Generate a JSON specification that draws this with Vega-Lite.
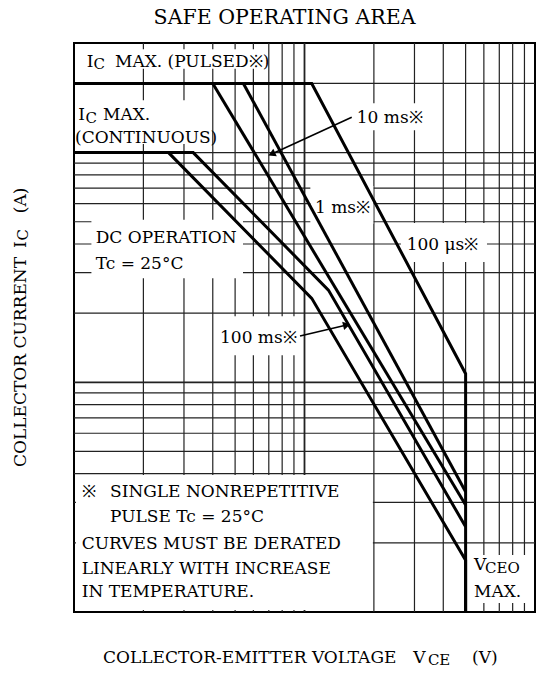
{
  "$schema": "https://vega.github.io/schema/vega-lite/v6.json",
  "width": 461,
  "height": 569,
  "autosize": "none",
  "padding": {"left": 74, "top": 43, "right": 18, "bottom": 72},
  "background": "white",
  "config": {"view": {"stroke": "black", "strokeWidth": 2}},
  "datasets": {
    "vgrid": [{"x": 2}, {"x": 3}, {"x": 4}, {"x": 5}, {"x": 6}, {"x": 7}, {"x": 8}, {"x": 9}, {"x": 10}, {"x": 20}, {"x": 30}, {"x": 40}, {"x": 50}, {"x": 60}, {"x": 70}, {"x": 80}, {"x": 90}],
    "hgrid": [{"y": 0.2}, {"y": 0.3}, {"y": 0.4}, {"y": 0.5}, {"y": 0.6}, {"y": 0.7}, {"y": 0.8}, {"y": 0.9}, {"y": 1}, {"y": 2}, {"y": 3}, {"y": 4}, {"y": 5}, {"y": 6}, {"y": 7}, {"y": 8}, {"y": 9}, {"y": 10}, {"y": 20}],
    "boxes": [
      {"box": "IC pulsed", "x": 1.02, "x2": 6.8, "y": 23.2, "y2": 28.2},
      {"box": "IC continuous", "x": 1.02, "x2": 3.95, "y": 10.9, "y2": 16.9},
      {"box": "DC", "x": 1.19, "x2": 5.41, "y": 2.84, "y2": 5.1},
      {"box": "10 ms", "x": 16.07, "x2": 33, "y": 12.5, "y2": 16.4},
      {"box": "1 ms", "x": 10.6, "x2": 19.9, "y": 4.9, "y2": 7.16},
      {"box": "100 us", "x": 26.2, "x2": 61.9, "y": 3.34, "y2": 4.94},
      {"box": "100 ms", "x": 4.13, "x2": 9.56, "y": 1.31, "y2": 1.94},
      {"box": "note", "x": 1.02, "x2": 19.8, "y": 0.102, "y2": 0.395},
      {"box": "VCEO", "x": 52.2, "x2": 98, "y": 0.1095, "y2": 0.177}
    ],
    "curves": [
      {"s": "DC", "k": 0, "x": 1, "y": 10},
      {"s": "DC", "k": 1, "x": 2.57, "y": 10},
      {"s": "DC", "k": 2, "x": 10.75, "y": 2.32},
      {"s": "DC", "k": 3, "x": 50, "y": 0.168},
      {"s": "DC", "k": 4, "x": 50, "y": 0.1},
      {"s": "100 ms", "k": 0, "x": 1, "y": 10},
      {"s": "100 ms", "k": 1, "x": 3.29, "y": 10},
      {"s": "100 ms", "k": 2, "x": 12.7, "y": 2.52},
      {"s": "100 ms", "k": 3, "x": 50, "y": 0.235},
      {"s": "10 ms", "k": 0, "x": 4, "y": 20},
      {"s": "10 ms", "k": 1, "x": 50, "y": 0.292},
      {"s": "1 ms", "k": 0, "x": 5.43, "y": 20},
      {"s": "1 ms", "k": 1, "x": 50, "y": 0.334},
      {"s": "100 us", "k": 0, "x": 1, "y": 20},
      {"s": "100 us", "k": 1, "x": 10.75, "y": 20},
      {"s": "100 us", "k": 2, "x": 50, "y": 1.09},
      {"s": "100 us", "k": 3, "x": 50, "y": 0.1}
    ],
    "arrows": [
      {"a": "10 ms", "x": 16.03, "y": 14.25, "x2": 7.21, "y2": 9.86},
      {"a": "100 ms", "x": 9.56, "y": 1.59, "x2": 15.24, "y2": 1.776}
    ],
    "title": [
      {"t": "SAFE OPERATING AREA", "x": 8.19, "y": 36.3}
    ],
    "labels": [
      {"t": "I", "x": 1.135, "y": 23.66},
      {"t": "MAX. (PULSED※)", "x": 1.506, "y": 23.66},
      {"t": "I", "x": 1.044, "y": 13.86},
      {"t": "MAX.", "x": 1.336, "y": 13.86},
      {"t": "(CONTINUOUS)", "x": 1.01, "y": 11.06},
      {"t": "DC OPERATION", "x": 1.242, "y": 4.03},
      {"t": "Tc = 25°C", "x": 1.242, "y": 3.1},
      {"t": "10 ms※", "x": 16.85, "y": 13.42},
      {"t": "1 ms※", "x": 11.1, "y": 5.47},
      {"t": "100 μs※", "x": 27.76, "y": 3.77},
      {"t": "100 ms※", "x": 4.3, "y": 1.483},
      {"t": "※", "x": 1.08, "y": 0.3158},
      {"t": "SINGLE NONREPETITIVE", "x": 1.433, "y": 0.3158},
      {"t": "PULSE Tc = 25°C", "x": 1.433, "y": 0.2471},
      {"t": "CURVES MUST BE DERATED", "x": 1.08, "y": 0.188},
      {"t": "LINEARLY WITH INCREASE", "x": 1.08, "y": 0.1464},
      {"t": "IN TEMPERATURE.", "x": 1.08, "y": 0.1162},
      {"t": "V", "x": 54.4, "y": 0.1523},
      {"t": "MAX.", "x": 54.4, "y": 0.1161},
      {"t": "COLLECTOR-EMITTER VOLTAGE", "x": 1.336, "y": 0.06},
      {"t": "V", "x": 29.6, "y": 0.06},
      {"t": "(V)", "x": 53.3, "y": 0.06}
    ],
    "subs": [
      {"t": "C", "x": 1.215, "y": 23.66},
      {"t": "C", "x": 1.122, "y": 13.86},
      {"t": "CEO", "x": 60.7, "y": 0.1523},
      {"t": "CE", "x": 34.3, "y": 0.06}
    ],
    "ytitle": [
      {"t": "COLLECTOR CURRENT", "x": 0.619, "y": 0.428},
      {"t": "I", "x": 0.619, "y": 3.84},
      {"t": "(A)", "x": 0.619, "y": 5.45}
    ],
    "ytitlesub": [
      {"t": "C", "x": 0.619, "y": 4.14}
    ]
  },
  "layer": [
    {
      "data": {"name": "vgrid"},
      "mark": {"type": "rule", "color": "#222222"},
      "encoding": {
        "x": {"field": "x", "type": "quantitative", "scale": {"type": "log", "domain": [1, 100], "nice": false},
          "axis": {"values": [1, 3, 5, 10, 30, 50, 100], "labelExpr": "format(datum.value, '~g')", "labelFont": "DejaVu Serif", "labelFontSize": 14, "labelColor": "black", "ticks": false, "domain": false, "grid": false, "labelPadding": 8, "labelFlush": false, "labelOverlap": false, "title": null}},
        "strokeWidth": {"condition": {"test": "datum.x === 10", "value": 1.8}, "value": 1.2}
      }
    },
    {
      "data": {"name": "hgrid"},
      "mark": {"type": "rule", "color": "#222222"},
      "encoding": {
        "y": {"field": "y", "type": "quantitative", "scale": {"type": "log", "domain": [0.1, 30], "nice": false},
          "axis": {"values": [0.1, 0.3, 0.5, 1, 3, 5, 10, 30], "labelExpr": "format(datum.value, '~g')", "labelFont": "DejaVu Serif", "labelFontSize": 14, "labelColor": "black", "ticks": false, "domain": false, "grid": false, "labelPadding": 6, "labelFlush": false, "labelOverlap": false, "title": null}},
        "strokeWidth": {"condition": {"test": "datum.y === 1", "value": 1.8}, "value": 1.2}
      }
    },
    {
      "data": {"name": "boxes"},
      "mark": {"type": "rect", "fill": "white"},
      "encoding": {
        "x": {"field": "x", "type": "quantitative", "axis": null},
        "x2": {"field": "x2"},
        "y": {"field": "y", "type": "quantitative", "axis": null},
        "y2": {"field": "y2"}
      }
    },
    {
      "data": {"name": "curves"},
      "mark": {"type": "line", "color": "black", "strokeWidth": 3, "strokeJoin": "miter", "strokeCap": "butt"},
      "encoding": {
        "x": {"field": "x", "type": "quantitative", "axis": null},
        "y": {"field": "y", "type": "quantitative", "axis": null},
        "detail": {"field": "s"},
        "order": {"field": "k", "type": "quantitative"}
      }
    },
    {
      "data": {"name": "arrows"},
      "mark": {"type": "rule", "color": "black", "strokeWidth": 1.6},
      "encoding": {
        "x": {"field": "x", "type": "quantitative", "axis": null},
        "y": {"field": "y", "type": "quantitative", "axis": null},
        "x2": {"field": "x2"},
        "y2": {"field": "y2"}
      }
    },
    {
      "data": {"name": "arrows"},
      "transform": [{"filter": "datum.a === '10 ms'"}],
      "mark": {"type": "point", "shape": "triangle-right", "filled": true, "color": "black", "size": 70, "angle": 155.4, "opacity": 1},
      "encoding": {
        "x": {"field": "x2", "type": "quantitative", "axis": null},
        "y": {"field": "y2", "type": "quantitative", "axis": null}
      }
    },
    {
      "data": {"name": "arrows"},
      "transform": [{"filter": "datum.a === '100 ms'"}],
      "mark": {"type": "point", "shape": "triangle-right", "filled": true, "color": "black", "size": 70, "angle": 346.7, "opacity": 1},
      "encoding": {
        "x": {"field": "x2", "type": "quantitative", "axis": null},
        "y": {"field": "y2", "type": "quantitative", "axis": null}
      }
    },
    {
      "data": {"name": "title"},
      "mark": {"type": "text", "font": "DejaVu Serif", "fontSize": 20.5, "color": "black", "align": "center", "baseline": "alphabetic"},
      "encoding": {
        "x": {"field": "x", "type": "quantitative", "axis": null},
        "y": {"field": "y", "type": "quantitative", "axis": null},
        "text": {"field": "t"}
      }
    },
    {
      "data": {"name": "labels"},
      "mark": {"type": "text", "font": "DejaVu Serif", "fontSize": 17, "color": "black", "align": "left", "baseline": "alphabetic"},
      "encoding": {
        "x": {"field": "x", "type": "quantitative", "axis": null},
        "y": {"field": "y", "type": "quantitative", "axis": null},
        "text": {"field": "t"}
      }
    },
    {
      "data": {"name": "subs"},
      "mark": {"type": "text", "font": "DejaVu Serif", "fontSize": 15, "color": "black", "align": "left", "baseline": "alphabetic", "dy": 2.5},
      "encoding": {
        "x": {"field": "x", "type": "quantitative", "axis": null},
        "y": {"field": "y", "type": "quantitative", "axis": null},
        "text": {"field": "t"}
      }
    },
    {
      "data": {"name": "ytitle"},
      "mark": {"type": "text", "font": "DejaVu Serif", "fontSize": 17, "color": "black", "align": "left", "baseline": "alphabetic", "angle": 270},
      "encoding": {
        "x": {"field": "x", "type": "quantitative", "axis": null},
        "y": {"field": "y", "type": "quantitative", "axis": null},
        "text": {"field": "t"}
      }
    },
    {
      "data": {"name": "ytitlesub"},
      "mark": {"type": "text", "font": "DejaVu Serif", "fontSize": 15, "color": "black", "align": "left", "baseline": "alphabetic", "angle": 270, "dy": 2.5},
      "encoding": {
        "x": {"field": "x", "type": "quantitative", "axis": null},
        "y": {"field": "y", "type": "quantitative", "axis": null},
        "text": {"field": "t"}
      }
    }
  ]
}
